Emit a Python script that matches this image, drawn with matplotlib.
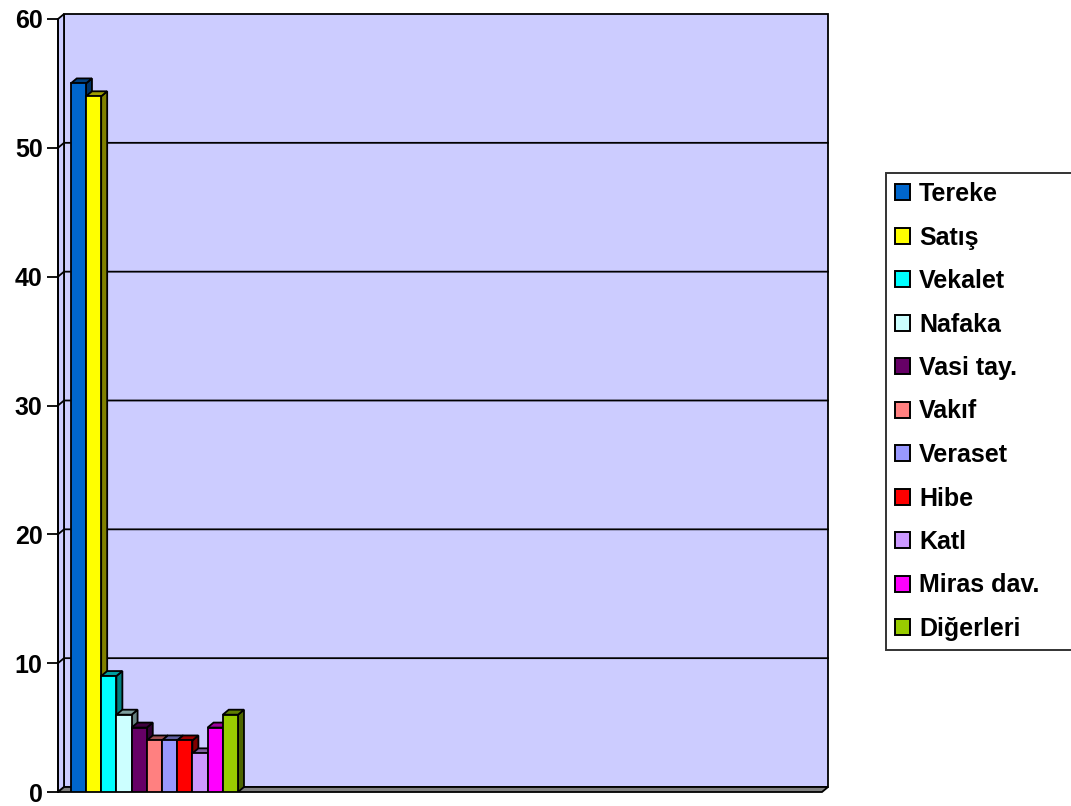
import matplotlib
matplotlib.use("Agg")
import matplotlib.pyplot as plt
from matplotlib.patches import Polygon, Patch
import matplotlib.colors as mcolors
import numpy as np

categories = ["Tereke", "Satış", "Vekalet", "Nafaka", "Vasi tay.", "Vakıf",
              "Veraset", "Hibe", "Katl", "Miras dav.", "Diğerleri"]
values = [55, 54, 9, 6, 5, 4, 4, 4, 3, 5, 6]
colors = ["#0066CC", "#FFFF00", "#00FFFF", "#CCFFFF", "#660066", "#FF8080",
          "#9999FF", "#FF0000", "#CC99FF", "#FF00FF", "#99CC00"]
yticks = [0, 10, 20, 30, 40, 50, 60]

plt.rcParams['font.family'] = ['Liberation Sans', 'DejaVu Sans']

W, H = 1071, 806
fig = plt.figure(figsize=(W / 100, H / 100), dpi=100)
fig.patch.set_facecolor("white")

# axes = front plane (pixels)
L, R, T, B = 58, 822, 19, 792
ax = fig.add_axes([L / W, (H - B) / H, (R - L) / W, (B - T) / H])
ax.set_facecolor("none")
xmin, xmax = -1.34, 48.92
ymin, ymax = 0, 60
ax.set_xlim(xmin, xmax)
ax.set_ylim(ymin, ymax)

# depth offsets (6 px right, 5 px up) in data units
dx = 6 * (xmax - xmin) / (R - L)
dy = 5 * (ymax - ymin) / (B - T)

lw = 1.3
wall = "#CCCCFF"
# back wall
ax.add_patch(Polygon([(xmin + dx, dy), (xmax + dx, dy), (xmax + dx, ymax + dy),
                      (xmin + dx, ymax + dy)], closed=True, facecolor=wall,
                     edgecolor="black", lw=lw, zorder=1, clip_on=False))
# left wall
ax.add_patch(Polygon([(xmin, 0), (xmin + dx, dy), (xmin + dx, ymax + dy), (xmin, ymax)],
                     closed=True, facecolor=wall, edgecolor="black", lw=lw, zorder=1,
                     clip_on=False))
# gridlines
for t in yticks[1:-1]:
    ax.plot([xmin, xmin + dx, xmax + dx], [t, t + dy, t + dy], color="black", lw=lw,
            zorder=2, clip_on=False)
# floor
ax.add_patch(Polygon([(xmin, 0), (xmax, 0), (xmax + dx, dy), (xmin + dx, dy)],
                     closed=True, facecolor="#808080", edgecolor="black", lw=lw,
                     zorder=2, clip_on=False))
# front axis line
ax.plot([xmin, xmin], [0, ymax], color="black", lw=lw, zorder=3, clip_on=False)

def shade(c, f):
    r, g, b = mcolors.to_rgb(c)
    return (r * f, g * f, b * f)

bw = 1.0
for i, (v, c) in enumerate(zip(values, colors)):
    x0, x1 = i - bw / 2, i + bw / 2
    z = 4 + i
    ax.add_patch(Polygon([(x1, 0), (x1 + dx, dy), (x1 + dx, v + dy), (x1, v)], closed=True,
                         facecolor=shade(c, 0.5), edgecolor="black", lw=lw, zorder=z))
    ax.add_patch(Polygon([(x0, v), (x1, v), (x1 + dx, v + dy), (x0 + dx, v + dy)], closed=True,
                         facecolor=shade(c, 0.62), edgecolor="black", lw=lw, zorder=z))
    ax.bar(i, v, width=bw, color=c, edgecolor="black", linewidth=lw, zorder=z + 0.5)

for s in ax.spines.values():
    s.set_visible(False)
ax.set_xticks([])
ax.set_yticks(yticks)
ax.set_yticklabels([str(t) for t in yticks], fontsize=18, fontweight="bold")
ax.tick_params(axis="y", length=8, width=lw, pad=3, colors="black")

handles = [Patch(facecolor=c, edgecolor="black", linewidth=1.4) for c in colors]
lx, ly, lw_px, lh_px = 886, 173, 200, 478
leg = fig.legend(handles, categories, loc="upper left", mode="expand",
                 bbox_to_anchor=(lx / W, 1 - (ly + lh_px) / H, lw_px / W, lh_px / H),
                 frameon=True, fancybox=False,
                 prop={"size": 18, "weight": "bold"}, handlelength=0.6, handleheight=0.6,
                 handletextpad=0.36, labelspacing=0.78, borderpad=0.36, borderaxespad=0)
leg.get_frame().set_edgecolor("black")
leg.get_frame().set_linewidth(1.4)

fig.savefig("out.png", dpi=100)
